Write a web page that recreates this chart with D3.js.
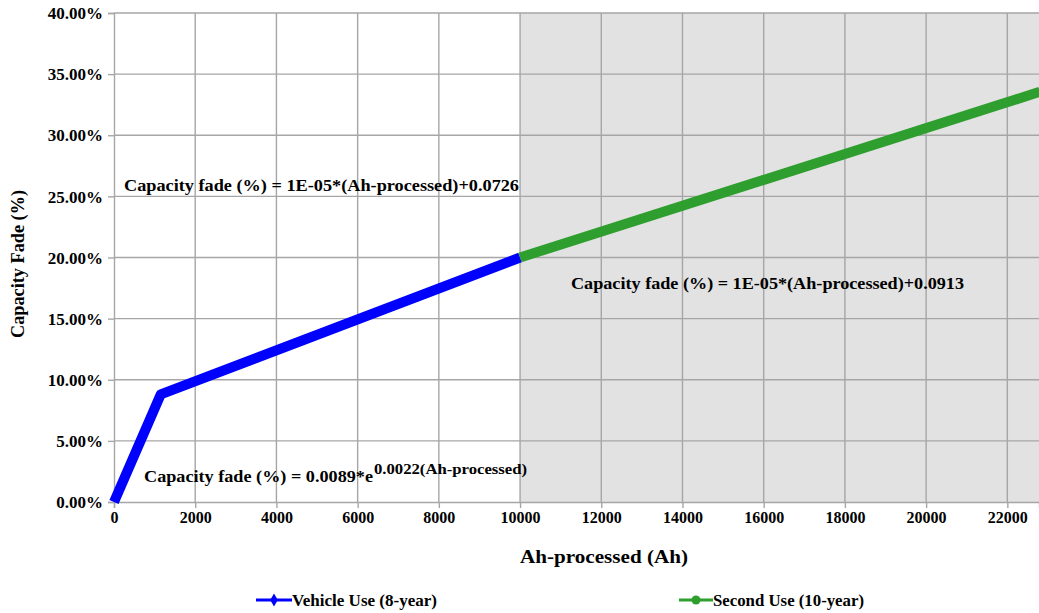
<!DOCTYPE html>
<html><head><meta charset="utf-8">
<script src="https://cdn.jsdelivr.net/npm/d3@7"></script>
<style>body{margin:0;background:#fff}svg{display:block}text{font-family:"Liberation Serif","Times New Roman",serif;font-weight:bold;fill:#000}</style>
</head><body><svg id="c" width="1039" height="613"></svg>
<script>
const xTicks = [0,2000,4000,6000,8000,10000,12000,14000,16000,18000,20000,22000];
const yTicks = [0,0.05,0.10,0.15,0.20,0.25,0.30,0.35,0.40];
const vehicleAh = [0,1150,10000];
const vehicleFade = [0,0.088,0.200];
const secondAh = [10000,22800];
const secondFade = [0.200,0.3355];
const secondStart = 10000;
const annotations = [
  {text:"Capacity fade (%) = 1E-05*(Ah-processed)+0.0726"},
  {text:"Capacity fade (%) = 1E-05*(Ah-processed)+0.0913"},
  {text:"Capacity fade (%) = 0.0089*e", sup:"0.0022(Ah-processed)"}
];
const legendNames = ["Vehicle Use (8-year)","Second Use (10-year)"];

const svg = d3.select("#c");
const L=114,R=1039,T=13,B=502;
const x = d3.scaleLinear().domain([0,22780]).range([L,R]);
const y = d3.scaleLinear().domain([0,0.40]).range([B,T]);

svg.append("rect").attr("x",x(secondStart)).attr("y",T).attr("width",R-x(secondStart)).attr("height",B-T).attr("fill","#e2e2e2");

svg.append("g").selectAll("line").data(xTicks.filter(d=>d>0)).join("line")
  .attr("x1",d=>x(d)).attr("x2",d=>x(d)).attr("y1",T).attr("y2",B)
  .attr("stroke","#a6a6a6").attr("stroke-width",1.4);
svg.append("g").selectAll("line").data(yTicks.filter(d=>d>0)).join("line")
  .attr("x1",L).attr("x2",R).attr("y1",d=>y(d)).attr("y2",d=>y(d))
  .attr("stroke","#a6a6a6").attr("stroke-width",1.4);

const xa = svg.append("g").attr("transform",`translate(0,${B})`)
  .call(d3.axisBottom(x).tickValues(xTicks).tickSize(6).tickPadding(4).tickFormat(d3.format("d")));
const ya = svg.append("g").attr("transform",`translate(${L},0)`)
  .call(d3.axisLeft(y).tickValues(yTicks).tickSize(6).tickPadding(5).tickFormat(d3.format(".2%")));
[xa,ya].forEach(a=>{
  a.select(".domain").attr("stroke","#a6a6a6").attr("stroke-width",1.4);
  a.selectAll(".tick line").attr("stroke","#a6a6a6").attr("stroke-width",1.4);
  a.selectAll("text").style("font-family",'"Liberation Serif",serif').style("font-weight","bold").attr("fill","#000");
});
xa.selectAll("text").style("font-size","16px");
ya.selectAll("text").style("font-size","17px").attr("dy","0.33em");

const line = d3.line().x(d=>x(d[0])).y(d=>y(d[1]));
svg.append("path").datum(vehicleAh.map((a,i)=>[a,vehicleFade[i]]))
  .attr("d",line).attr("fill","none").attr("stroke","#0000ff").attr("stroke-width",10)
  .attr("stroke-linejoin","round");
svg.append("path").datum(secondAh.map((a,i)=>[a,secondFade[i]]))
  .attr("d",line).attr("fill","none").attr("stroke","#2e9e2e").attr("stroke-width",10)
  .attr("stroke-linejoin","round");

svg.append("text").attr("x",124).attr("y",191).style("font-size","17px")
  .attr("textLength",395).attr("lengthAdjust","spacingAndGlyphs").text(annotations[0].text);
svg.append("text").attr("x",571).attr("y",289).style("font-size","17px")
  .attr("textLength",393).attr("lengthAdjust","spacingAndGlyphs").text(annotations[1].text);
svg.append("text").attr("x",144).attr("y",482).style("font-size","17px")
  .attr("textLength",229).attr("lengthAdjust","spacingAndGlyphs").text(annotations[2].text);
svg.append("text").attr("x",374).attr("y",474).style("font-size","14px")
  .attr("textLength",153).attr("lengthAdjust","spacingAndGlyphs").text(annotations[2].sup);

svg.append("text").attr("x",604).attr("y",563).attr("text-anchor","middle").style("font-size","19px")
  .attr("textLength",168).attr("lengthAdjust","spacingAndGlyphs").text("Ah-processed (Ah)");
svg.append("text").attr("transform","translate(24,264) rotate(-90)").attr("text-anchor","middle").style("font-size","18px")
  .attr("textLength",148).attr("lengthAdjust","spacingAndGlyphs").text("Capacity Fade (%)");

const lg = svg.append("g");
lg.append("line").attr("x1",256).attr("x2",292).attr("y1",600).attr("y2",600).attr("stroke","#0000ff").attr("stroke-width",3);
lg.append("path").attr("d",d3.symbol(d3.symbolDiamond,50)()).attr("transform","translate(274,600)").attr("fill","#0000ff");
lg.append("text").attr("x",292).attr("y",606).style("font-size","16px").attr("textLength",145).attr("lengthAdjust","spacingAndGlyphs").text(legendNames[0]);
lg.append("line").attr("x1",679).attr("x2",713).attr("y1",600).attr("y2",600).attr("stroke","#2e9e2e").attr("stroke-width",3);
lg.append("circle").attr("cx",696).attr("cy",600).attr("r",4.5).attr("fill","#2e9e2e");
lg.append("text").attr("x",713).attr("y",606).style("font-size","16px").attr("textLength",151).attr("lengthAdjust","spacingAndGlyphs").text(legendNames[1]);
</script></body></html>
